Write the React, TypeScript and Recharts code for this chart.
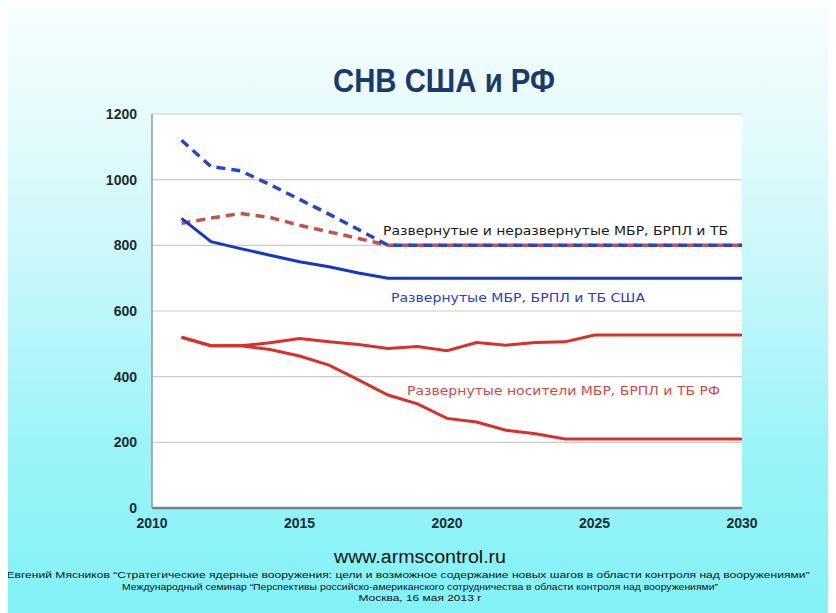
import React from "react";
import { LineChart, Line, XAxis, YAxis, CartesianGrid } from "recharts";

const years = [2011, 2012, 2013, 2014, 2015, 2016, 2017, 2018, 2019, 2020, 2021, 2022, 2023, 2024, 2025, 2026, 2027, 2028, 2029, 2030];
const usTotal = [1120, 1040, 1027, 985, 940, 895, 848, 800, 800, 800, 800, 800, 800, 800, 800, 800, 800, 800, 800, 800];
const ruTotal = [867, 883, 897, 885, 861, 841, 821, 800, 800, 800, 800, 800, 800, 800, 800, 800, 800, 800, 800, 800];
const usDeployed = [882, 811, 790, 770, 750, 735, 716, 700, 700, 700, 700, 700, 700, 700, 700, 700, 700, 700, 700, 700];
const ruDeployedHigh = [520, 494, 494, 503, 516, 506, 498, 486, 492, 479, 504, 496, 504, 506, 527, 527, 527, 527, 527, 527];
const ruDeployedLow = [520, 494, 494, 483, 463, 435, 390, 344, 317, 273, 262, 237, 226, 210, 210, 210, 210, 210, 210, 210];

const xTicks = [2010, 2015, 2020, 2025, 2030];
const yTicks = [0, 200, 400, 600, 800, 1000, 1200];

const title = "СНВ США и РФ";
const labelTotal = "Развернутые и неразвернутые МБР, БРПЛ и ТБ";
const labelUS = "Развернутые МБР, БРПЛ и ТБ США";
const labelRU = "Развернутые носители МБР, БРПЛ и ТБ РФ";
const site = "www.armscontrol.ru";
const footer1 = "Евгений Мясников \u201CСтратегические ядерные вооружения: цели и возможное содержание новых шагов в области контроля над вооружениями\u201D";
const footer2 = "Международный семинар \u201CПерспективы российско-американского сотрудничества в области контроля над вооружениями\u201D";
const footer3 = "Москва, 16 мая 2013 г";

const data = years.map((y, i) => ({
  year: y,
  usTotal: usTotal[i],
  ruTotal: ruTotal[i],
  usDeployed: usDeployed[i],
  ruHigh: ruDeployedHigh[i],
  ruLow: ruDeployedLow[i],
}));

const W = 828;
const H = 605;

export default function App() {
  return (
    <div
      style={{
        position: "relative",
        width: W,
        height: H,
        background:
          "linear-gradient(to bottom, #f6fdfd 0%, #e6fbfc 18%, #c4f7fa 45%, #9cf4f8 72%, #82f2f7 100%)",
      }}
    >
      <LineChart
        width={W}
        height={H}
        data={data}
        margin={{ top: 106, right: 94, bottom: 75, left: 84 }}
      >
        <CartesianGrid vertical={false} stroke="#c9cccc" strokeWidth={1.2} fill="#ffffff" />
        <XAxis
          dataKey="year"
          type="number"
          domain={[2010, 2030]}
          ticks={xTicks}
          height={30}
          tickLine={false}
          tickSize={0}
          tickMargin={10}
          axisLine={{ stroke: "#6f8589", strokeWidth: 2.5 }}
          tick={{ fill: "#1d2c33", fontSize: 14, fontWeight: 700, fontFamily: "Liberation Sans, Arial, sans-serif" }}
        />
        <YAxis
          type="number"
          domain={[0, 1200]}
          ticks={yTicks}
          width={60}
          tickLine={false}
          tickSize={0}
          tickMargin={15}
          axisLine={{ stroke: "#8a9ba0", strokeWidth: 1.5 }}
          tick={{ fill: "#1d2c33", fontSize: 14, fontWeight: 700, fontFamily: "Liberation Sans, Arial, sans-serif" }}
        />
        <Line dataKey="ruTotal" stroke="#c8504c" strokeWidth={3.5} strokeDasharray="9 6" dot={false} isAnimationActive={false} />
        <Line dataKey="usTotal" stroke="#2545cf" strokeWidth={3.5} strokeDasharray="9 6" dot={false} isAnimationActive={false} />
        <Line dataKey="usDeployed" stroke="#1536cc" strokeWidth={3} dot={false} isAnimationActive={false} />
        <Line dataKey="ruHigh" stroke="#d8302a" strokeWidth={3} dot={false} isAnimationActive={false} />
        <Line dataKey="ruLow" stroke="#d8302a" strokeWidth={3} dot={false} isAnimationActive={false} />
      </LineChart>
      <svg
        width={W}
        height={H}
        style={{ position: "absolute", left: 0, top: 0, pointerEvents: "none" }}
      >
        <text x={436} y={84} textAnchor="middle" fontFamily="Liberation Sans Narrow, Liberation Sans, Arial, sans-serif" fontWeight={700} fontSize={33} fill="#1b3a6b" textLength={222} lengthAdjust="spacingAndGlyphs">
          {title}
        </text>
        <text x={375} y={227} fontFamily="DejaVu Sans, Verdana, sans-serif" fontSize={13} fill="#1a1a1a" textLength={345} lengthAdjust="spacingAndGlyphs">
          {labelTotal}
        </text>
        <text x={383} y={294} fontFamily="DejaVu Sans, Verdana, sans-serif" fontSize={13} fill="#2a40c4" textLength={254} lengthAdjust="spacingAndGlyphs">
          {labelUS}
        </text>
        <text x={399} y={387} fontFamily="DejaVu Sans, Verdana, sans-serif" fontSize={13} fill="#d14848" textLength={313} lengthAdjust="spacingAndGlyphs">
          {labelRU}
        </text>
        <text x={412} y={555} textAnchor="middle" fontFamily="Liberation Sans, Arial, sans-serif" fontSize={18} fill="#111111" textLength={172} lengthAdjust="spacingAndGlyphs">
          {site}
        </text>
        <text x={400} y={570} textAnchor="middle" fontFamily="Liberation Sans, Arial, sans-serif" fontSize={9.5} fill="#111111" textLength={803} lengthAdjust="spacingAndGlyphs">
          {footer1}
        </text>
        <text x={412} y={582} textAnchor="middle" fontFamily="Liberation Sans, Arial, sans-serif" fontSize={9.5} fill="#111111" textLength={596} lengthAdjust="spacingAndGlyphs">
          {footer2}
        </text>
        <text x={412} y={593} textAnchor="middle" fontFamily="Liberation Sans, Arial, sans-serif" fontSize={9.5} fill="#111111" textLength={123} lengthAdjust="spacingAndGlyphs">
          {footer3}
        </text>
      </svg>
    </div>
  );
}
